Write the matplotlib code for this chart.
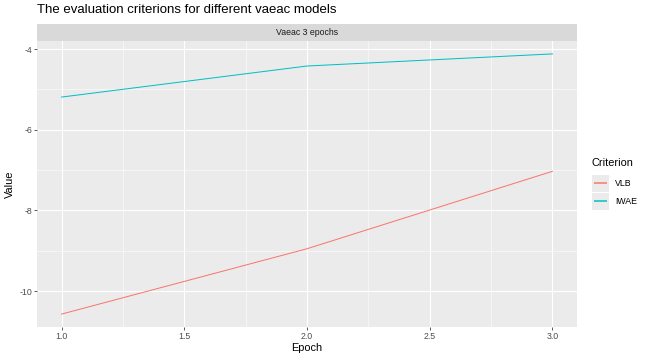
import matplotlib
matplotlib.use("Agg")
import matplotlib.pyplot as plt

plt.rcParams['font.family'] = ['Liberation Sans', 'DejaVu Sans']

epochs = [1, 2, 3]
vlb = [-10.57, -8.95, -7.03]
iwae = [-5.19, -4.42, -4.12]
criteria = ["VLB", "IWAE"]
colors = ["#F8766D", "#00BFC4"]
x_ticks = [1.0, 1.5, 2.0, 2.5, 3.0]
y_ticks = [-10, -8, -6, -4]

W, H = 648, 360
fig = plt.figure(figsize=(9, 5), dpi=72)

# panel in pixel coords
pl, pr, pt, pb = 37, 577, 41, 327
ax = fig.add_axes([pl / W, 1 - pb / H, (pr - pl) / W, (pb - pt) / H])
ax.set_facecolor("#EBEBEB")
for s in ax.spines.values():
    s.set_visible(False)

for ser, c in zip([vlb, iwae], colors):
    ax.plot(epochs, ser, color=c, lw=1.0, zorder=3)

ax.set_xlim(0.9, 3.1)
ax.set_ylim(-10.89, -3.80)
ax.set_xticks(x_ticks)
ax.set_xticklabels([f"{t:.1f}" for t in x_ticks])
ax.set_yticks(y_ticks)
ax.set_yticklabels([str(t) for t in y_ticks])
ax.set_xticks([1.25, 1.75, 2.25, 2.75], minor=True)
ax.set_yticks([-9, -7, -5], minor=True)
ax.grid(which="major", color="white", lw=1.1, zorder=1)
ax.grid(which="minor", color="white", lw=0.55, zorder=1)
ax.tick_params(which="major", length=2.75, width=0.8, color="#333333",
               labelcolor="#4D4D4D", labelsize=8.8, pad=2.2)
ax.tick_params(which="minor", length=0)
ax.set_axisbelow(True)

ax.set_xlabel("Epoch", fontsize=11, labelpad=2)
ax.set_ylabel("Value", fontsize=11, labelpad=4)

# facet strip
strip = fig.add_axes([pl / W, 1 - pt / H, (pr - pl) / W, 17 / H])
strip.set_facecolor("#D9D9D9")
strip.set_xticks([])
strip.set_yticks([])
for s in strip.spines.values():
    s.set_visible(False)
strip.text(0.5, 0.5, "Vaeac 3 epochs", ha="center", va="center",
           fontsize=8.8, color="#1A1A1A", transform=strip.transAxes)

fig.text(pl / W, 1 - 10 / H, "The evaluation criterions for different vaeac models",
         ha="left", va="center", fontsize=13.2)

# legend, drawn by hand as ggplot does
fig.text(591 / W, 1 - 163 / H, "Criterion", ha="left", va="center", fontsize=11)
for i, (lab, c) in enumerate(zip(criteria, colors)):
    yc = 183 + i * 18
    key = fig.add_axes([592 / W, 1 - (yc + 8.5) / H, 17 / W, 17 / H])
    key.set_facecolor("#EBEBEB")
    key.set_xticks([])
    key.set_yticks([])
    for s in key.spines.values():
        s.set_visible(False)
    key.set_xlim(0, 1)
    key.set_ylim(0, 1)
    key.plot([0.1, 0.9], [0.5, 0.5], color=c, lw=1.5, solid_capstyle="butt")
    fig.text(615 / W, 1 - yc / H, lab, ha="left", va="center", fontsize=8.8)

fig.savefig("out.png", dpi=72)
